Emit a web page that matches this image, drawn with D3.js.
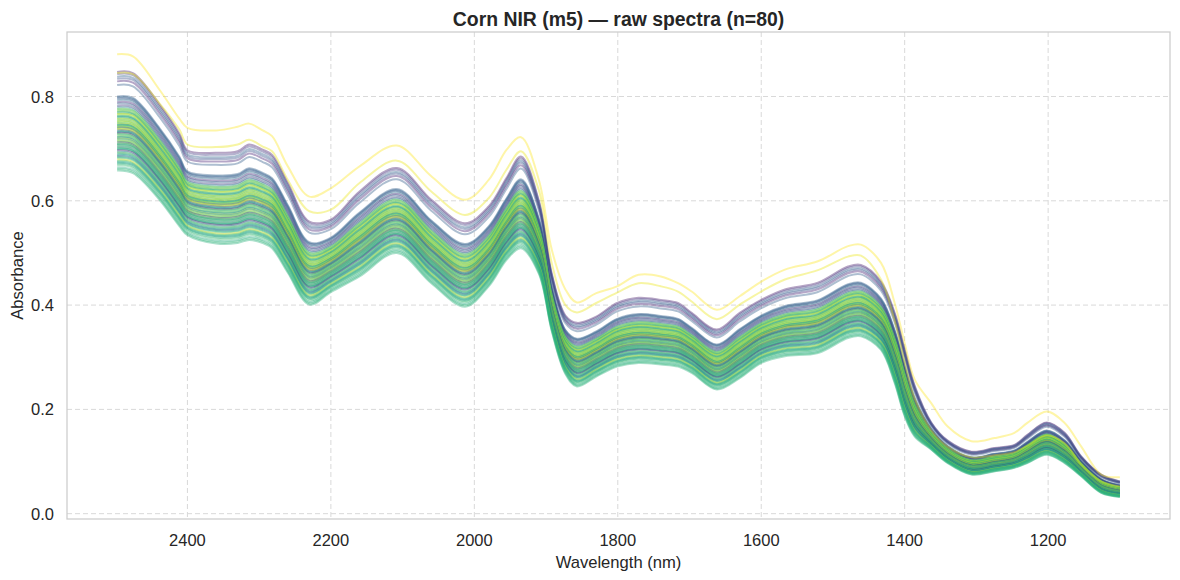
<!DOCTYPE html>
<html>
<head>
<meta charset="utf-8">
<script src="https://cdn.jsdelivr.net/npm/d3@7"></script>
<style>
  body { margin: 0; background: #fff; }
  svg text { font-family: "Liberation Sans", Arial, sans-serif; fill: #262626; }
</style>
</head>
<body>
<div id="chart"></div>
<script>
// Wavelength knots (nm)
const wavelengths = [2498, 2476, 2439, 2411, 2400, 2360, 2330, 2314, 2295, 2282, 2260, 2230, 2200, 2160, 2108, 2060, 2013, 1980, 1955, 1935,
  1910, 1892, 1873, 1857, 1830, 1801, 1771, 1740, 1716, 1697, 1662, 1630, 1600, 1567, 1521, 1479, 1461, 1433, 1414, 1400,
  1386, 1363, 1340, 1307, 1275, 1247, 1229, 1202, 1177, 1154, 1126, 1100];

// highest spectrum (pale yellow outlier)
const topSpectrum = [0.881, 0.877, 0.813, 0.757, 0.740, 0.735, 0.742, 0.748, 0.735, 0.724, 0.666, 0.608, 0.624, 0.666, 0.706, 0.647, 0.602, 0.640, 0.698, 0.722,
  0.640, 0.506, 0.430, 0.405, 0.423, 0.436, 0.458, 0.455, 0.442, 0.426, 0.391, 0.417, 0.445, 0.468, 0.484, 0.513, 0.516, 0.481, 0.404, 0.327,
  0.257, 0.212, 0.167, 0.139, 0.145, 0.155, 0.174, 0.196, 0.174, 0.129, 0.075, 0.070];

// second yellow spectrum
const secondSpectrum = [0.845, 0.843, 0.787, 0.736, 0.708, 0.703, 0.708, 0.717, 0.704, 0.695, 0.640, 0.580, 0.583, 0.634, 0.677, 0.618, 0.573, 0.605, 0.660, 0.695,
  0.620, 0.480, 0.400, 0.386, 0.404, 0.424, 0.442, 0.436, 0.426, 0.407, 0.373, 0.401, 0.426, 0.449, 0.467, 0.493, 0.495, 0.449, 0.370, 0.290,
  0.220, 0.160, 0.128, 0.108, 0.112, 0.118, 0.130, 0.150, 0.135, 0.095, 0.062, 0.052];

// upper and lower edge of the main band
const upperEdge = [0.847, 0.845, 0.785, 0.728, 0.697, 0.692, 0.695, 0.708, 0.698, 0.688, 0.634, 0.560, 0.564, 0.618, 0.663, 0.602, 0.557, 0.589, 0.644, 0.685,
  0.600, 0.460, 0.380, 0.366, 0.378, 0.404, 0.414, 0.410, 0.404, 0.385, 0.353, 0.385, 0.410, 0.430, 0.443, 0.474, 0.477, 0.445, 0.385, 0.315,
  0.245, 0.175, 0.140, 0.119, 0.126, 0.132, 0.151, 0.175, 0.155, 0.110, 0.075, 0.062];
const lowerEdge = [0.658, 0.653, 0.602, 0.551, 0.534, 0.518, 0.519, 0.525, 0.519, 0.509, 0.462, 0.401, 0.425, 0.455, 0.500, 0.442, 0.397, 0.436, 0.487, 0.509,
  0.460, 0.350, 0.268, 0.244, 0.263, 0.282, 0.289, 0.286, 0.282, 0.270, 0.238, 0.260, 0.289, 0.302, 0.308, 0.337, 0.340, 0.314, 0.251, 0.187,
  0.148, 0.123, 0.097, 0.075, 0.081, 0.088, 0.097, 0.113, 0.097, 0.072, 0.040, 0.032];

// remaining 78 samples: absorbance at 2498 nm and colour value (viridis 0..1)
const sampleLevels = [0.847, 0.843, 0.838, 0.834, 0.829, 0.822, 0.800, 0.798, 0.796, 0.793, 0.789, 0.786, 0.782, 0.779,
  0.776, 0.775, 0.772, 0.771, 0.769, 0.767, 0.766, 0.763, 0.762, 0.760, 0.758, 0.757, 0.754, 0.753, 0.751, 0.749, 0.748,
  0.746, 0.745, 0.744, 0.742, 0.741, 0.740, 0.738, 0.737, 0.735, 0.733, 0.732, 0.730, 0.728, 0.727, 0.724, 0.723, 0.721,
  0.719, 0.718, 0.715, 0.714, 0.712, 0.710, 0.709, 0.707, 0.706, 0.703, 0.702, 0.700, 0.699, 0.697, 0.694, 0.692, 0.690,
  0.688, 0.686, 0.684, 0.682, 0.679, 0.677, 0.675, 0.673, 0.671, 0.668, 0.664, 0.661, 0.658];
const sampleColors = [0.08, 0.18, 0.32, 0.25, 0.10, 0.30, 0.30, 0.32, 0.28, 0.35, 0.12, 0.30, 0.18, 0.45,
  0.80, 0.72, 0.86, 0.62, 0.60, 0.84, 0.90, 0.76, 0.58, 0.55, 0.74, 0.88, 0.66, 0.90, 0.82, 0.70, 0.92,
  0.50, 0.56, 0.72, 0.86, 0.78, 0.30, 0.95, 0.84, 0.22, 0.60, 0.52, 0.12, 0.76, 0.66, 0.82, 0.60, 0.45,
  0.88, 0.55, 0.90, 0.68, 0.18, 0.80, 0.60, 0.50, 0.72, 0.40, 0.72, 0.62, 0.60, 0.10, 0.50, 0.76, 0.58,
  0.55, 0.35, 0.62, 0.66, 0.95, 0.70, 0.60, 0.58, 0.64, 0.68, 0.62, 0.66, 0.64];
const secondColor = 0.97;
const topColor = 1.0;

const xTicks = [2400, 2200, 2000, 1800, 1600, 1400, 1200];
const yTicks = [0.0, 0.2, 0.4, 0.6, 0.8];

const W = 1180, H = 580;
const mLeft = 67, mRight = 1170, mTop = 32, mBottom = 519;

const svg = d3.select("#chart").append("svg")
  .attr("width", W).attr("height", H);

const x = d3.scaleLinear().domain([2567.9, 1030.1]).range([mLeft, mRight]);
const y = d3.scaleLinear().domain([-0.0102, 0.9237]).range([mBottom, mTop]);

// grid
const grid = svg.append("g");
grid.selectAll(".gx").data(xTicks).enter().append("line")
  .attr("x1", d => x(d)).attr("x2", d => x(d))
  .attr("y1", mTop).attr("y2", mBottom)
  .attr("stroke", "#d9d9d9").attr("stroke-dasharray", "5,3");
grid.selectAll(".gy").data(yTicks).enter().append("line")
  .attr("x1", mLeft).attr("x2", mRight)
  .attr("y1", d => y(d)).attr("y2", d => y(d))
  .attr("stroke", "#d9d9d9").attr("stroke-dasharray", "5,3");

// build spectra
const t0 = (upperEdge[0] - lowerEdge[0]);
const spectra = sampleLevels.map((lv, i) => {
  const t = (lv - lowerEdge[0]) / t0;
  return { c: sampleColors[i], v: wavelengths.map((w, k) => lowerEdge[k] + t * (upperEdge[k] - lowerEdge[k])) };
});
// place the second yellow line among the samples, top outlier last
spectra.splice(40, 0, { c: secondColor, v: secondSpectrum });
spectra.push({ c: topColor, v: topSpectrum });

const line = d3.line()
  .x((d, k) => x(wavelengths[k]))
  .y(d => y(d))
  .curve(d3.curveCatmullRom.alpha(0.5));

svg.append("g").selectAll("path")
  .data(spectra).enter().append("path")
  .attr("d", d => line(d.v))
  .attr("fill", "none")
  .attr("stroke", d => d3.interpolateViridis(d.c))
  .attr("stroke-opacity", 0.4)
  .attr("stroke-width", 2);

// frame
svg.append("rect")
  .attr("x", mLeft).attr("y", mTop)
  .attr("width", mRight - mLeft).attr("height", mBottom - mTop)
  .attr("fill", "none").attr("stroke", "#cccccc").attr("stroke-width", 1.25);

// tick labels
svg.append("g").selectAll("text").data(xTicks).enter().append("text")
  .attr("x", d => x(d)).attr("y", 546)
  .attr("text-anchor", "middle").attr("font-size", 16.5)
  .text(d => d);
svg.append("g").selectAll("text").data(yTicks).enter().append("text")
  .attr("x", 54).attr("y", d => y(d) + 6)
  .attr("text-anchor", "end").attr("font-size", 16.5)
  .text(d => d.toFixed(1));

// labels
svg.append("text")
  .attr("x", (mLeft + mRight) / 2).attr("y", 568)
  .attr("text-anchor", "middle").attr("font-size", 16.6)
  .text("Wavelength (nm)");
svg.append("text")
  .attr("transform", `translate(22.5, ${(mTop + mBottom) / 2}) rotate(-90)`)
  .attr("text-anchor", "middle").attr("font-size", 16.6)
  .text("Absorbance");
svg.append("text")
  .attr("x", (mLeft + mRight) / 2).attr("y", 26)
  .attr("text-anchor", "middle").attr("font-size", 19.4).attr("font-weight", "bold")
  .text("Corn NIR (m5) — raw spectra (n=80)");
</script>
</body>
</html>
